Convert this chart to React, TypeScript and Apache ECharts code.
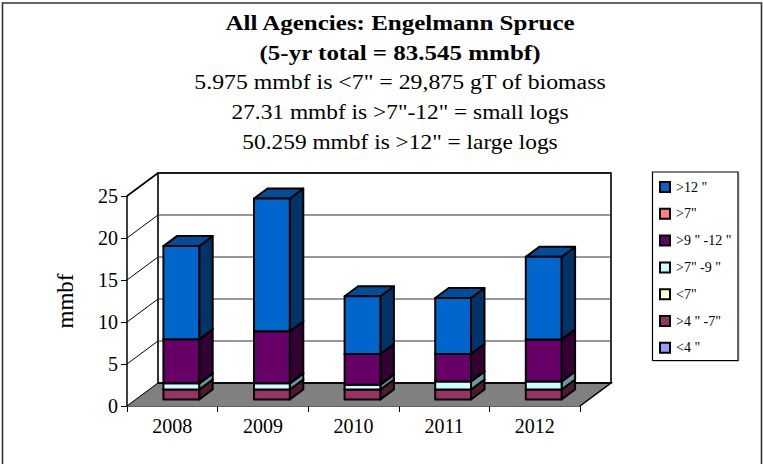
import React, { useEffect, useRef } from "react";
import * as echarts from "echarts";

const years = ["2008", "2009", "2010", "2011", "2012"];
const under4 = [0, 0, 0, 0, 0];
const from4to7 = [1.195, 1.195, 1.195, 1.195, 1.195];
const under7 = [0, 0, 0, 0, 0];
const from7to9 = [0.73, 0.73, 0.57, 0.96, 0.96];
const from9to12 = [5.24, 6.2, 3.65, 3.26, 5.0];
const over7 = [0, 0, 0, 0, 0];
const over12 = [11.1, 15.8, 6.88, 6.66, 9.83];

const names = ['<4 "', '>4 " -7"', '<7"', '>7" -9 "', '>9 " -12 "', '>7"', '>12 "'];
const values = [under4, from4to7, under7, from7to9, from9to12, over7, over12];
const fronts = ["#9999FF", "#993366", "#FFFFCC", "#CCFFFF", "#660066", "#FF8080", "#0066CC"];
const sides = ["#4D4D80", "#4D1A33", "#808066", "#669999", "#330033", "#804040", "#003366"];
const tops = ["#7373BF", "#732650", "#BFBF99", "#99BFBF", "#4D004D", "#BF6060", "#004D99"];

const titleLines = [
  "All Agencies: Engelmann Spruce",
  "(5-yr total = 83.545 mmbf)",
  '5.975 mmbf is <7" = 29,875 gT of biomass',
  '27.31 mmbf is >7"-12" = small logs',
  '50.259 mmbf is >12" = large logs',
];
const titleCenters = [23.5, 53, 82, 113, 143];
const titleStretch = [1.25, 1.25, 1.19, 1.17, 1.17];

const SERIF = "'Liberation Serif', serif";
const WALL_DX = 31;
const WALL_DY = -23;
const BAR_DX = 13.5;
const BAR_DY = -10;
const LEAD_DX = 9;
const LEAD_DY = -6.5;

export default function App() {
  const ref = useRef<HTMLDivElement>(null);
  useEffect(() => {
    document.body.style.margin = "0";
    const chart = echarts.init(ref.current!, undefined, { renderer: "svg" });

    const lineStyle = (w: number, c = "#000") => ({ stroke: c, lineWidth: w, fill: "none" });

    const wallSeries = {
      type: "custom",
      name: "wall",
      silent: true,
      z: 1,
      data: [0, 5, 10, 15, 20, 25].map((v) => [0, v]),
      renderItem: (params: any, api: any) => {
        const v = api.value(1);
        const b = params.coordSys;
        const y = api.coord([0, v])[1];
        const x0 = b.x;
        const x1 = b.x + b.width;
        const children: any[] = [];
        if (v === 0) {
          children.push({
            type: "polygon",
            shape: {
              points: [
                [x0, y],
                [x0 + WALL_DX, y + WALL_DY],
                [x1 + WALL_DX, y + WALL_DY],
                [x1, y],
              ],
            },
            style: { fill: "#808080", stroke: "#808080", lineWidth: 1 },
          });
          children.push({
            type: "polyline",
            shape: {
              points: [
                [x0 + WALL_DX, y + WALL_DY],
                [x1 + WALL_DX, y + WALL_DY],
                [x1, y],
              ],
            },
            style: lineStyle(1.5),
          });
          children.push({
            type: "polygon",
            shape: {
              points: [
                [x0 + WALL_DX, b.y + WALL_DY],
                [x1 + WALL_DX, b.y + WALL_DY],
                [x1 + WALL_DX, y + WALL_DY],
                [x0 + WALL_DX, y + WALL_DY],
              ],
            },
            style: { fill: "none", stroke: "#000", lineWidth: 1.6 },
          });
        } else {
          children.push({
            type: "line",
            shape: { x1: x0 + WALL_DX, y1: y + WALL_DY, x2: x1 + WALL_DX, y2: y + WALL_DY },
            style: lineStyle(1, v === 25 ? "#000" : "#333"),
          });
        }
        children.push({
          type: "line",
          shape: { x1: x0, y1: y, x2: x0 + WALL_DX, y2: y + WALL_DY },
          style: lineStyle(v === 25 ? 1.6 : 1),
        });
        return { type: "group", children };
      },
    };

    const barSeries = names.map((name, s) => ({
      type: "custom",
      name,
      z: 2 + s,
      itemStyle: { color: fronts[s], borderColor: "#000", borderWidth: 2 },
      data: years.map((_, i) => {
        let start = 0;
        for (let k = 0; k < s; k++) start += values[k][i];
        return [i, start, start + values[s][i]];
      }),
      renderItem: (params: any, api: any) => {
        const i = api.value(0);
        const lo = api.value(1);
        const hi = api.value(2);
        if (hi <= lo) return { type: "group", children: [] };
        const w = api.size([1, 0])[0] * 0.395;
        const cx = api.coord([i, 0])[0] + LEAD_DX;
        const yLo = api.coord([0, lo])[1] + LEAD_DY;
        const yHi = api.coord([0, hi])[1] + LEAD_DY;
        const xa = cx - w / 2;
        const xb = cx + w / 2;
        const edge = { stroke: "#000", lineWidth: 2, lineJoin: "round" };
        return {
          type: "group",
          children: [
            {
              type: "polygon",
              shape: {
                points: [
                  [xb, yLo],
                  [xb + BAR_DX, yLo + BAR_DY],
                  [xb + BAR_DX, yHi + BAR_DY],
                  [xb, yHi],
                ],
              },
              style: { fill: sides[s], ...edge },
            },
            {
              type: "polygon",
              shape: {
                points: [
                  [xa, yHi],
                  [xa + BAR_DX, yHi + BAR_DY],
                  [xb + BAR_DX, yHi + BAR_DY],
                  [xb, yHi],
                ],
              },
              style: { fill: tops[s], ...edge },
            },
            {
              type: "rect",
              shape: { x: xa, y: yHi, width: xb - xa, height: yLo - yHi },
              style: { fill: fronts[s], ...edge },
            },
          ],
        };
      },
    }));

    chart.setOption({
      animation: false,
      backgroundColor: "#fff",
      textStyle: { fontFamily: SERIF },
      grid: { left: 127, top: 196, width: 453, height: 210 },
      xAxis: {
        type: "category",
        data: years,
        axisLine: { lineStyle: { color: "#000", width: 1.5 } },
        axisTick: { show: true, length: 6, alignWithLabel: false, lineStyle: { color: "#000", width: 1 } },
        axisLabel: { fontFamily: SERIF, fontSize: 20, color: "#000", margin: 10 },
        splitLine: { show: false },
      },
      yAxis: {
        type: "value",
        min: 0,
        max: 25,
        interval: 5,
        name: "mmbf",
        nameLocation: "middle",
        nameGap: 50,
        nameRotate: 90,
        nameTextStyle: { fontFamily: SERIF, fontSize: 23, color: "#000" },
        axisLine: { show: true, lineStyle: { color: "#000", width: 1.5 } },
        axisTick: { show: true, length: 6, lineStyle: { color: "#000", width: 1 } },
        axisLabel: { fontFamily: SERIF, fontSize: 20, color: "#000", margin: 9 },
        splitLine: { show: false },
      },
      legend: {
        orient: "vertical",
        left: 659,
        top: 180,
        padding: 0,
        itemWidth: 10,
        itemHeight: 10,
        itemGap: 12.8,
        icon: "rect",
        selectedMode: false,
        data: [...names].reverse(),
        textStyle: { fontFamily: SERIF, fontSize: 14, color: "#000", padding: [0, 0, 0, 1] },
        itemStyle: { borderColor: "#000", borderWidth: 2 },
      },
      graphic: [
        {
          type: "rect",
          silent: true,
          z: -1,
          shape: { x: 2.5, y: 3, width: 759, height: 480 },
          style: { fill: "none", stroke: "#333", lineWidth: 1.6 },
        },
        {
          type: "rect",
          silent: true,
          shape: { x: 653.5, y: 173, width: 85.5, height: 188.5 },
          style: { fill: "none", stroke: "#ccc", lineWidth: 1 },
        },
        {
          type: "rect",
          silent: true,
          shape: { x: 652.5, y: 172, width: 85.5, height: 188.5 },
          style: { fill: "#fff", stroke: "#000", lineWidth: 1.2 },
        },
        ...titleLines.map((text, i) => ({
          type: "text",
          silent: true,
          x: 400,
          y: titleCenters[i],
          scaleX: titleStretch[i],
          style: {
            text,
            fill: "#000",
            font: `${i < 2 ? "bold " : ""}20px ${SERIF}`,
            textAlign: "center",
            textVerticalAlign: "middle",
          },
        })),
      ],
      series: [wallSeries, ...barSeries],
    });
    return () => chart.dispose();
  }, []);
  return <div ref={ref} style={{ width: 763, height: 464 }} />;
}
